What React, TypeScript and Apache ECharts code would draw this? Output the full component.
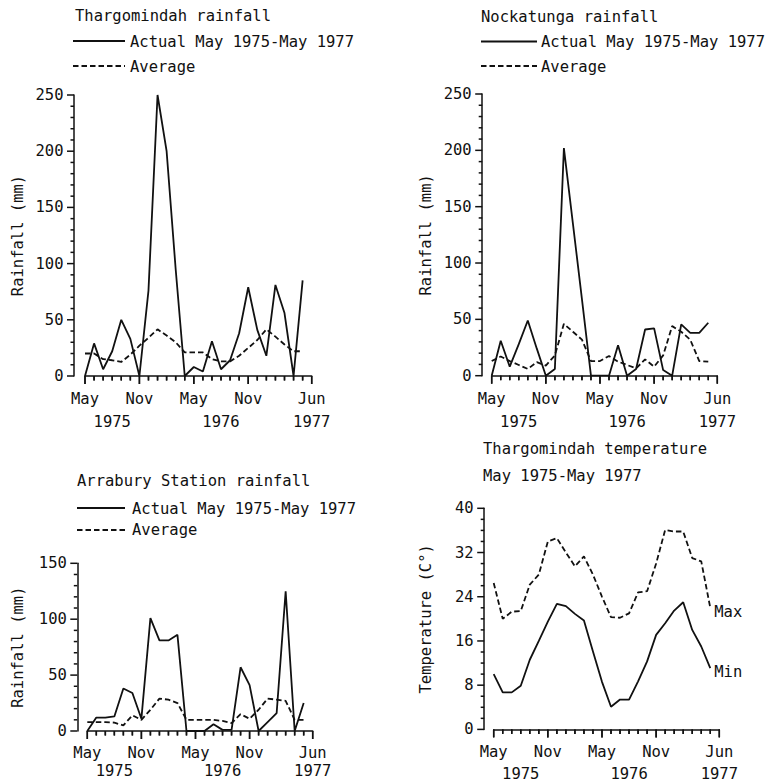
import React, { useEffect, useRef } from 'react';
import * as echarts from 'echarts';

// Monthly points, May 1975 .. May 1977
const months = [
  '1975-05', '1975-06', '1975-07', '1975-08', '1975-09', '1975-10', '1975-11', '1975-12',
  '1976-01', '1976-02', '1976-03', '1976-04', '1976-05', '1976-06', '1976-07', '1976-08',
  '1976-09', '1976-10', '1976-11', '1976-12', '1977-01', '1977-02', '1977-03', '1977-04', '1977-05',
];

const thargActual = [0, 29, 6, 22, 50, 33, 0, 76, 250, 200, 95, 0, 8, 4, 31, 6, 14, 38, 79, 41, 18, 81, 56, 0, 85];
const thargAverage = [20, 20, 15, 14, 12.5, 19, 27, 34, 41.5, 36, 30, 21, 21, 21, 15, 13, 13, 18, 25, 32, 41.5, 35, 28, 22, 22];

const nockActual = [0, 31, 8, 28, 49, 24, 0, 6, 202, 135, 68, 0, 0, 0, 27, 0, 6, 41, 42, 5, 0, 45.5, 38, 38, 47];
const nockAverage = [13, 17, 13, 9.5, 6, 12, 9, 18, 46, 39, 32, 13, 13, 17.5, 12.5, 9.5, 6.5, 14.5, 8, 18, 44, 39, 32, 13, 12.5];

const arrabActual = [0, 12, 12, 13, 38, 34, 11, 101, 81, 81, 86, 0, 0, 0, 6, 1, 1, 57, 41, 0, 8, 16, 125, 0, 25];
const arrabAverage = [8, 8, 8, 7.5, 5, 14, 10, 19, 29, 28, 25, 10, 10, 10, 10, 9, 7, 15, 11, 19, 29, 28, 27, 10, 10];

const tempMax = [26.5, 20, 21.3, 21.4, 26.2, 28, 34, 34.6, 32, 29.5, 31.3, 28, 24, 20.3, 20.2, 21, 24.8, 25, 30, 36.1, 35.8, 35.8, 31, 30.4, 22];
const tempMin = [10, 6.7, 6.7, 7.9, 12.6, 16, 19.5, 22.7, 22.3, 20.9, 19.7, 14.1, 8.6, 4.1, 5.4, 5.4, 8.7, 12.3, 17.1, 19.2, 21.5, 23, 18, 15, 11.1];

// x-axis ticks and labels (month index from May 1975; 25 = Jun 1977)
const minorTickPos = Array.from({ length: 26 }, (_, i) => i);
const majorTickPos = [0, 6, 12, 18, 25];
const monthLabelPos = [0, 6, 12, 18, 25];
const monthLabelText = ['May', 'Nov', 'May', 'Nov', 'Jun'];
const yearLabelPos = [3, 15, 25];
const yearLabelText = ['1975', '1976', '1977'];

const FONT = '"DejaVu Sans Mono", monospace';
const FS = 15.5;
const INK = '#111';
const TICK_W = 1.5;

const pairs = (vals: number[]) => vals.map((v, i) => [months.indexOf(months[i]), v]);

// grid spans May 1975 .. Jun 1977; y axis sits left of it (offset)
const grids = [
  { left: 85, top: 95, width: 226.7, height: 281 },
  { left: 491.7, top: 94, width: 225.6, height: 281.7 },
  { left: 87.3, top: 563.3, width: 225.4, height: 167.7 },
  { left: 493.7, top: 508.3, width: 225.6, height: 221.7 },
];
const yOffsets = [11, 9.5, 10, 9.5];
const monthMargins = [15, 15, 14, 14.7];
const yearMargins = [37.7, 38, 32, 36.6];

const labelFmt = (pos: number[], text: string[]) => (v: number) => {
  const k = pos.indexOf(Math.round(v));
  return k >= 0 ? text[k] : '';
};

function xAxes(g: number) {
  const common = {
    gridIndex: g, type: 'value', min: 0, max: 25, interval: 1, position: 'bottom', offset: 0,
    splitLine: { show: false }, axisTick: { show: false },
  };
  const lbl = { fontFamily: FONT, fontSize: FS, color: INK, showMinLabel: true, showMaxLabel: true };
  return [
    {
      ...common,
      axisLine: { show: true, onZero: false, lineStyle: { color: INK, width: 1.5 } },
      axisLabel: { ...lbl, customValues: monthLabelPos, formatter: labelFmt(monthLabelPos, monthLabelText), margin: monthMargins[g] },
    },
    {
      ...common,
      axisLine: { show: false, onZero: false },
      axisLabel: { ...lbl, customValues: yearLabelPos, formatter: labelFmt(yearLabelPos, yearLabelText), margin: yearMargins[g] },
    },
  ];
}

function yAxis(g: number, max: number, interval: number, name: string, nameGap: number) {
  return {
    gridIndex: g,
    type: 'value',
    min: 0,
    max,
    interval,
    offset: yOffsets[g],
    axisLine: { show: true, onZero: false, lineStyle: { color: INK, width: 1.5 } },
    axisTick: { show: false },
    minorTick: { show: false },
    axisLabel: { fontFamily: FONT, fontSize: FS, color: INK, margin: 10.5 },
    splitLine: { show: false },
    minorSplitLine: { show: false },
    name,
    nameLocation: 'middle',
    nameGap,
    nameTextStyle: { fontFamily: FONT, fontSize: FS, color: INK },
  };
}

function lineSeries(g: number, vals: number[], dashed: boolean, endLabel?: string) {
  const s: any = {
    type: 'line',
    xAxisIndex: g * 2,
    yAxisIndex: g,
    data: pairs(vals),
    symbol: 'none',
    silent: true,
    lineStyle: { color: INK, width: 1.8, type: dashed ? [5.5, 3] : 'solid' },
  };
  if (endLabel) {
    s.endLabel = { show: true, formatter: endLabel, fontFamily: FONT, fontSize: FS, color: INK, distance: 4, offset: [0, 4] };
  }
  return s;
}

const xTickLen = (m: number) => (majorTickPos.includes(m) ? 8 : 4.5);

// Month tick marks hanging below the x axis, placed through the axis scale
function xTickSeries(g: number) {
  return {
    type: 'custom',
    xAxisIndex: g * 2,
    yAxisIndex: g,
    silent: true,
    clip: false,
    z: 4,
    encode: { x: 0, y: 1 },
    data: minorTickPos.map((m) => [m, 0, xTickLen(m)]),
    renderItem: (_p: any, api: any) => {
      const pt = api.coord([api.value(0), 0]);
      return {
        type: 'rect',
        shape: { x: pt[0] - TICK_W / 2, y: pt[1], width: TICK_W, height: api.value(2) },
        style: { fill: INK },
      };
    },
  };
}

function xTickMarks(g: number) {
  return {
    type: 'scatter',
    xAxisIndex: g * 2,
    yAxisIndex: g,
    silent: true,
    clip: false,
    z: 4,
    symbol: 'rect',
    itemStyle: { color: INK, opacity: 1 },
    data: minorTickPos.map((m) => ({
      value: [m, 0],
      symbolSize: [TICK_W, xTickLen(m)],
      symbolOffset: [0, xTickLen(m) / 2],
    })),
  };
}

function yTickSeries(g: number, max: number, major: number, minor: number) {
  const vals = Array.from({ length: Math.round(max / minor) + 1 }, (_, i) => i * minor);
  return {
    type: 'custom',
    xAxisIndex: g * 2,
    yAxisIndex: g,
    silent: true,
    clip: false,
    z: 4,
    encode: { x: 1, y: 0 },
    data: vals.map((v) => [v, Math.abs(v / major - Math.round(v / major)) < 1e-9 ? 7 : 3.5]),
    renderItem: (_p: any, api: any) => {
      const pt = api.coord([0, api.value(0)]);
      const ax = pt[0] - yOffsets[g];
      return {
        type: 'rect',
        shape: { x: ax - api.value(1), y: pt[1] - TICK_W / 2, width: api.value(1), height: TICK_W },
        style: { fill: INK },
      };
    },
  };
}

const txt = (text: string, x: number, y: number) => ({
  type: 'text',
  x,
  y,
  style: { text, fill: INK, font: `${FS}px ${FONT}`, verticalAlign: 'middle', align: 'left' },
});
const seg = (x1: number, x2: number, y: number, dashed: boolean) => ({
  type: 'line',
  shape: { x1, y1: y, x2, y2: y },
  style: { stroke: INK, lineWidth: 1.8, lineDash: dashed ? [5.5, 3] : null },
});

export default function App() {
  const ref = useRef<HTMLDivElement>(null);
  useEffect(() => {
    if (!ref.current) return;
    const chart = echarts.init(ref.current, null, { renderer: 'svg' });
    chart.setOption({
      animation: false,
      backgroundColor: '#fff',
      grid: grids,
      xAxis: [...xAxes(0), ...xAxes(1), ...xAxes(2), ...xAxes(3)],
      yAxis: [
        yAxis(0, 250, 50, 'Rainfall (mm)', 48),
        yAxis(1, 250, 50, 'Rainfall (mm)', 48),
        yAxis(2, 150, 50, 'Rainfall (mm)', 51),
        yAxis(3, 40, 8, 'Temperature (C°)', 50),
      ],
      series: [
        lineSeries(0, thargActual, false),
        lineSeries(0, thargAverage, true),
        lineSeries(1, nockActual, false),
        lineSeries(1, nockAverage, true),
        lineSeries(2, arrabActual, false),
        lineSeries(2, arrabAverage, true),
        lineSeries(3, tempMax, true, 'Max'),
        lineSeries(3, tempMin, false, 'Min'),
        xTickSeries(0),
        xTickSeries(1),
        xTickSeries(2),
        xTickSeries(3),
        xTickMarks(0),
        xTickMarks(1),
        xTickMarks(2),
        xTickMarks(3),
        yTickSeries(0, 250, 50, 10),
        yTickSeries(1, 250, 50, 10),
        yTickSeries(2, 150, 50, 10),
        yTickSeries(3, 40, 8, 2),
      ],
      graphic: [
        txt('Thargomindah rainfall', 75, 16),
        seg(73, 125, 41, false),
        txt('Actual May 1975-May 1977', 130, 42),
        seg(73, 125, 66, true),
        txt('Average', 130, 66.5),

        txt('Nockatunga rainfall', 481, 16.5),
        seg(481, 537, 41.5, false),
        txt('Actual May 1975-May 1977', 541, 42),
        seg(481, 537, 66, true),
        txt('Average', 541, 66.5),

        txt('Arrabury Station rainfall', 77, 481),
        seg(77, 125, 508, false),
        txt('Actual May 1975-May 1977', 132, 508.5),
        seg(77, 127, 530, true),
        txt('Average', 132, 530),

        txt('Thargomindah temperature', 483, 448.5),
        txt('May 1975-May 1977', 483, 476),
      ],
    });
    return () => chart.dispose();
  }, []);
  return (
    <div
      ref={ref}
      style={{ position: 'absolute', left: 0, top: 0, width: 770, height: 782, background: '#fff' }}
    />
  );
}
